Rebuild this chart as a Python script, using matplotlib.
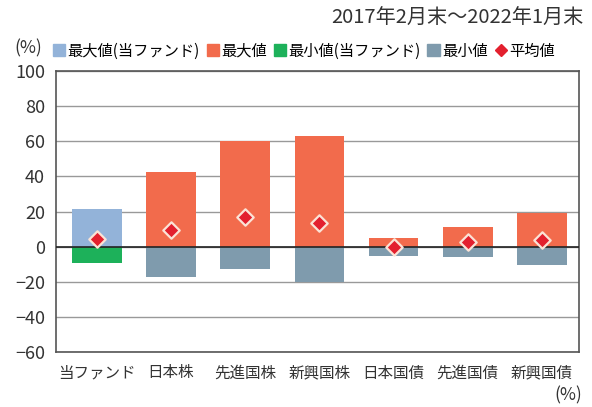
import matplotlib.pyplot as plt
import numpy as np
from matplotlib.patches import Patch
from matplotlib.lines import Line2D

plt.rcParams['font.family'] = ['Noto Sans CJK JP', 'DejaVu Sans']

categories = ['当ファンド', '日本株', '先進国株', '新興国株', '日本国債', '先進国債', '新興国債']
max_vals = [21.4, 42.3, 60.0, 63.2, 5.0, 11.0, 19.3]
min_vals = [-9.2, -17.1, -12.9, -20.3, -5.2, -6.1, -10.5]
avg_vals = [4.2, 9.5, 16.7, 13.3, -0.3, 2.8, 3.8]

c_max_fund = '#93b3d9'
c_max = '#f26b4c'
c_min_fund = '#1db15a'
c_min = '#7f9bad'
c_avg = '#e3202e'

fig = plt.figure(figsize=(5.92, 4.07), dpi=100)
ax = fig.add_axes([56 / 592, 1 - 352 / 407, (579 - 56) / 592, (352 - 71) / 407])

x = np.arange(len(categories))
max_colors = [c_max_fund] + [c_max] * (len(categories) - 1)
min_colors = [c_min_fund] + [c_min] * (len(categories) - 1)
ax.bar(x, max_vals, width=0.67, color=max_colors, zorder=2)
ax.bar(x, min_vals, width=0.67, color=min_colors, zorder=2)
ax.scatter(x, avg_vals, marker='D', s=70, color=c_avg, edgecolor='#fbe3d6',
           linewidth=1.6, zorder=4)

ax.axhline(0, color='#222222', lw=1.2, zorder=3)
ax.set_ylim(-60, 100)
ax.set_xlim(-0.55, 6.5)
ax.set_yticks(range(-60, 101, 20))
ax.yaxis.grid(True, color='#999999', lw=1.0, zorder=1)
ax.set_xticks(x)
ax.set_xticklabels(categories)
ax.tick_params(axis='y', length=0, labelsize=13, colors='#333333', pad=8)
ax.tick_params(axis='x', length=0, labelsize=11.2, colors='#333333', pad=9)
for s in ax.spines.values():
    s.set_color('#555555')
    s.set_linewidth(1.2)

fig.text(583 / 592, 1 - 18 / 407, '2017年2月末～2022年1月末', ha='right', va='center',
         fontsize=14.5, color='#333333')
fig.text(14 / 592, 1 - 48 / 407, '(%)', ha='left', va='center', fontsize=12.5, color='#333333')
fig.text(582 / 592, 1 - 395 / 407, '(%)', ha='right', va='center', fontsize=12.5, color='#333333')

handles = [
    Patch(color=c_max_fund, label='最大値(当ファンド)'),
    Patch(color=c_max, label='最大値'),
    Patch(color=c_min_fund, label='最小値(当ファンド)'),
    Patch(color=c_min, label='最小値'),
    Line2D([], [], marker='D', ls='', color=c_avg, markersize=6, label='平均値'),
]
fig.legend(handles=handles, loc='center left', bbox_to_anchor=(53 / 592, 1 - 51 / 407),
           ncol=5, frameon=False, fontsize=11, handlelength=0.8, handleheight=0.8,
           handletextpad=0.15, columnspacing=0.45, borderaxespad=0, borderpad=0)

fig.savefig('out.png', dpi=100, facecolor='white')
